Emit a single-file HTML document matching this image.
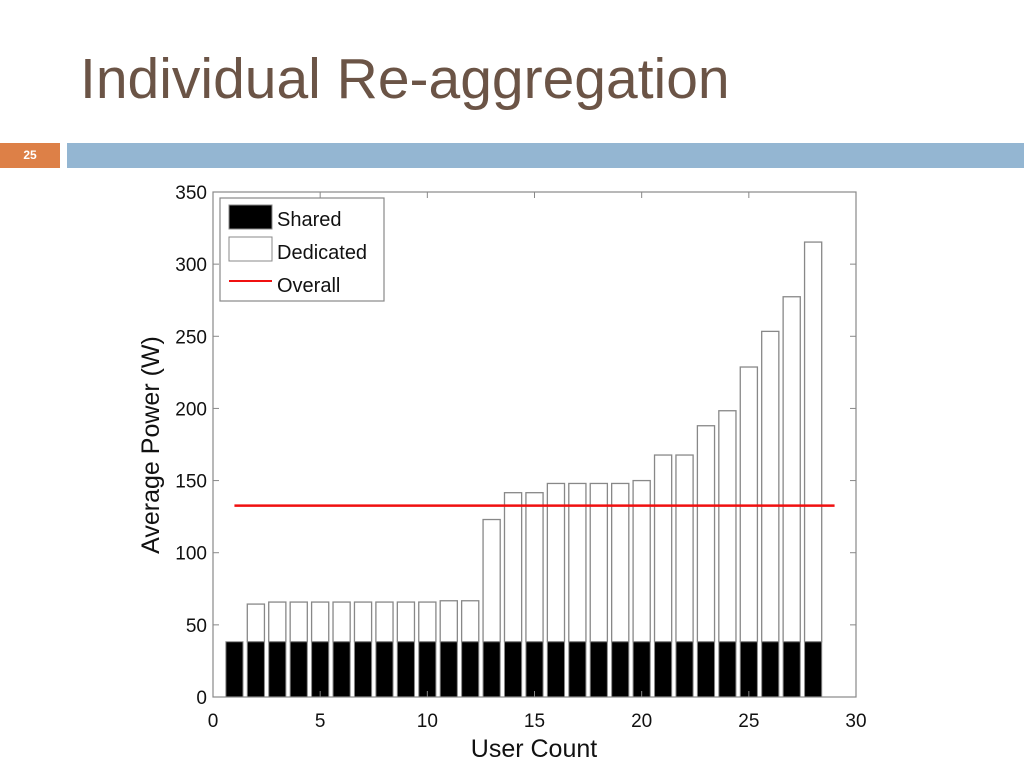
<!DOCTYPE html>
<html><head><meta charset="utf-8"><style>
body{margin:0;width:1024px;height:768px;background:#fff;overflow:hidden;font-family:"Liberation Sans",Arial,sans-serif;position:relative}
#title{position:absolute;left:80px;top:46px;font-size:57px;color:#6b5446;white-space:nowrap}
#num{position:absolute;left:0;top:143px;width:60px;height:25px;background:#dd8047;color:#fff;font-size:12px;font-weight:bold;text-align:center;line-height:25px}
#band{position:absolute;left:67px;top:143px;width:957px;height:25px;background:#94b6d2}
svg{position:absolute;left:0;top:0}
</style></head><body>
<div id="title">Individual Re-aggregation</div>
<div id="num">25</div>
<div id="band"></div>
<svg id="chart" width="1024" height="768"></svg>
<script>
const users=[1,2,3,4,5,6,7,8,9,10,11,12,13,14,15,16,17,18,19,20,21,22,23,24,25,26,27,28];
const shared=[38.3,38.3,38.3,38.3,38.3,38.3,38.3,38.3,38.3,38.3,38.3,38.3,38.3,38.3,38.3,38.3,38.3,38.3,38.3,38.3,38.3,38.3,38.3,38.3,38.3,38.3,38.3,38.3];
const total=[38.3,64.4,65.8,65.8,65.8,65.8,65.8,65.8,65.8,65.8,66.7,66.7,123,141.6,141.6,148,148,148,148,150,167.7,167.7,188,198.4,228.7,253.4,277.4,315.3];
const overall=132.6;
const overallRange=[1,29];
const xTicks=[0,5,10,15,20,25,30];
const yTicks=[0,50,100,150,200,250,300,350];
const X0=213,X1=856,Y0=697,Y1=192;
const sx=v=>X0+(v-0)/30*(X1-X0);
const sy=v=>Y0-(v-0)/350*(Y0-Y1);
const svg=document.getElementById('chart');const NS='http://www.w3.org/2000/svg';
function mk(t,a,p){const e=document.createElementNS(NS,t);for(const k in a)e.setAttribute(k,a[k]);(p||svg).appendChild(e);return e;}
const bw=0.8;
users.forEach((u,i)=>{
 const d=mk('rect',{x:sx(u-bw/2),y:sy(total[i]),width:sx(bw)-sx(0),height:sy(shared[i])-sy(total[i]),fill:'#fff',stroke:'#888','stroke-width':1.3});
 
 
 const s=mk('rect',{x:sx(u-bw/2),y:sy(shared[i]),width:sx(bw)-sx(0),height:sy(0)-sy(shared[i]),fill:'#000',stroke:'#888','stroke-width':1});
 
 
});
const ln=mk('line',{x1:sx(overallRange[0]),x2:sx(overallRange[1]),y1:sy(overall),y2:sy(overall),stroke:'#f01010','stroke-width':2.5});


const box=mk('rect',{x:X0,y:Y1,width:X1-X0,height:Y0-Y1,fill:'none',stroke:'#888','stroke-width':1.2});


xTicks.forEach(t=>{
 mk('line',{x1:sx(t),x2:sx(t),y1:Y0,y2:Y0-6,stroke:'#888'});
 mk('line',{x1:sx(t),x2:sx(t),y1:Y1,y2:Y1+6,stroke:'#888'});
 const l=mk('text',{x:sx(t),y:727,'text-anchor':'middle','font-size':19,fill:'#111'});l.textContent=t;
 
 
});
yTicks.forEach(t=>{
 mk('line',{x1:X0,x2:X0+6,y1:sy(t),y2:sy(t),stroke:'#888'});
 mk('line',{x1:X1,x2:X1-6,y1:sy(t),y2:sy(t),stroke:'#888'});
 const l=mk('text',{x:207,y:sy(t)+7,'text-anchor':'end','font-size':19,fill:'#111'});l.textContent=t;
 
 
});
const xt=mk('text',{x:534,y:757,'text-anchor':'middle','font-size':25,fill:'#111'});xt.textContent='User Count';


const yt=mk('text',{x:0,y:0,'text-anchor':'middle','font-size':25,fill:'#111',transform:'translate(159,445) rotate(-90)'});yt.textContent='Average Power (W)';


const lg=mk('g',{});


mk('rect',{x:220,y:198,width:164,height:103,fill:'#fff',stroke:'#888','stroke-width':1.2},lg);
mk('rect',{x:229,y:205,width:43,height:24,fill:'#000',stroke:'#888'},lg);
mk('rect',{x:229,y:237,width:43,height:24,fill:'#fff',stroke:'#888'},lg);
mk('line',{x1:229,x2:272,y1:281,y2:281,stroke:'#f01010','stroke-width':2},lg);
[['Shared',226],['Dedicated',259],['Overall',292]].forEach(([t,y])=>{const e=mk('text',{x:277,y:y,'font-size':20,fill:'#111'},lg);e.textContent=t;
 
 });
</script>
</body></html>
